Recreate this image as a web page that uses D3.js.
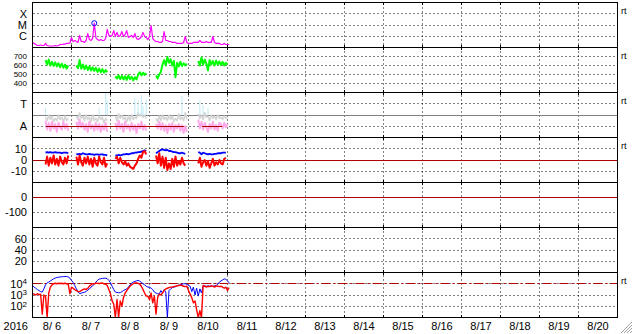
<!DOCTYPE html>
<html>
<head>
<meta charset="utf-8">
<script src="https://cdnjs.cloudflare.com/ajax/libs/d3/7.8.5/d3.min.js"></script>
<style>
  body { margin: 0; background: #fff; }
  svg { display: block; font-family: "Liberation Sans", Arial, sans-serif; }
  .grid line { stroke: #000; stroke-width: 1px; stroke-dasharray: 1,3; }
  .lbl { font-size: 11px; fill: #000; }
  .lbl.small { font-size: 8px; }
  .rt { font-size: 9px; fill: #000; }
  .data { fill: none; stroke-linejoin: round; }
</style>
</head>
<body>
<script>

// ---- data (hourly, starting 2016-08-06 00UT) ----
var dayLabels = ["8/ 6","8/ 7","8/ 8","8/ 9","8/10","8/11","8/12","8/13","8/14","8/15","8/16","8/17","8/18","8/19","8/20"];
var yearLabel = "2016";

// X-ray flux in units of 1e-7 W/m2
var xray = [2.8,2.3,1.85,1.5,1.5,1.67,1.5,1.5,2.3,1.5,
  1.36,1.36,1.36,1.36,1.5,1.36,1.5,1.85,1.85,2.0,
  2.0,2.3,2.3,2.5,7.7,3.4,4.2,3.4,2.8,11.7,
  3.4,3.4,2.8,4.2,17.5,5.1,4.2,6.3,145,7.7,
  5.1,4.2,5.1,4.2,4.2,6.3,40,11.7,9.5,11.7,
  32,9.5,22,9.5,11.7,26,9.5,14,32,7.7,
  9.5,11.7,7.7,17.5,6.3,5.1,6.3,9.5,22,9.5,
  7.7,5.1,9.5,90,6.3,4.2,3.4,3.4,2.8,2.8,
  3.4,26,4.2,4.2,3.4,3.4,2.8,2.8,2.8,2.3,
  2.3,2.3,2.3,2.8,9.5,2.8,2.3,2.3,2.3,2.8,
  2.8,2.8,2.8,4.2,2.8,2.8,2.8,3.4,2.8,2.8,
  2.8,9.5,2.8,2.3,2.3,2.3,1.85,1.85,2.3,1.85,
  1.85,1.85];
var flareHour = 38;
var xrayTicks = [1000, 100, 10];
var xrayLabels = ["X", "M", "C"];

// solar wind data come in 5 pieces; start hour of each
var segStart = [8, 27, 51, 76, 102];

var speed = [
  [660,610,665,600,640,595,635,590,625,580,620,575,610,565,600],
  [600,570,660,565,610,560,600,550,590,545,580,540,575,530,565,525,560,520,550,525],
  [480,455,490,450,485,445,480,440,490,450,475,435,470,445,500,525,490,520,495,515],
  [490,455,500,530,610,660,600,695,630,670,600,650,470,630,590,640,595,625,600,620],
  [650,600,690,610,665,620,545,660,610,650,600,655,610,645,605,640,600,630,610]
];
var speedTicks = [700, 600, 500, 400];

var gray3 = [
  [1.8,1.5,2.0,1.6,1.9,1.4,1.7,1.5,2.0,1.6,1.8,1.4,1.9,1.5,1.7],
  [1.9,1.6,2.2,1.7,1.9,1.5,2.0,1.6,1.8,1.4,2.0,1.5,1.7,1.4,1.9,1.6,1.8,1.3,1.7,1.5],
  [1.9,1.5,2.1,1.7,2.0,1.6,1.8,1.4,1.9,1.5,2.0,1.6,1.8,1.7,2.2,1.9,2.1,1.8,2.0,1.7],
  [1.7,1.4,1.9,1.5,2.0,1.6,1.8,1.5,2.0,1.6,1.9,1.4,1.7,1.5,2.1,1.6,1.8,1.5,2.2,1.6],
  [2.1,1.7,2.0,1.6,2.2,1.8,1.9,1.5,2.0,1.7,1.9,1.6,2.0,1.7,1.8,1.6,1.9,1.7,1.8]
];
var pink3 = [
  [1.5,0.7,1.3,0.6,1.4,0.8,1.2,0.5,1.3,0.9,0.7,1.4,0.8,1.2,0.6],
  [1.4,0.8,1.6,0.9,1.3,0.7,1.2,0.5,1.4,0.8,1.1,0.6,1.3,0.7,1.2,0.5,1.1,0.7,1.3,0.5],
  [1.3,0.7,1.5,0.8,1.2,0.5,1.4,0.8,1.1,0.6,1.3,0.7,1.1,0.4,1.2,0.8,1.4,0.7,1.1,0.6],
  [1.2,0.8,1.4,0.7,1.3,0.6,1.1,0.4,1.2,0.7,1.3,0.5,1.1,0.8,1.2,0.6,1.1,0.4,1.0,0.5],
  [1.6,0.8,1.4,0.7,1.3,0.9,0.5,1.2,0.8,1.4,0.7,1.1,0.6,1.3,1.2,0.8,1.3,0.9,1.2]
];
var cyanHours = [8, 41, 45, 46, 63, 65, 67, 68, 70, 92, 103, 105, 108];
var cyanVals  = [2.6, 2.6, 4.0, 3.3, 3.5, 3.2, 3.8, 2.8, 3.4, 3.7, 3.3, 2.9, 2.6];
var aLineSpans = [[8.3, 93.4], [104.4, 116.7]];
var p3Ticks = [3, 1];
var p3Labels = ["T", "A"];

var bt = [
  [6.5,7,6.5,7,6.5,6.5,7,6.5,6.5,6.5,6,6.5,6.5,6.5,6],
  [5.5,5,5.5,5,6,5.5,5,5,5.5,5,5,4.5,5,5,4.5,5,5,4.5,4.5,4],
  [4,4,4.5,4,4.5,5,5,5.5,5,5.5,6,6,6.5,6.5,7,7,7.5,8,8.5,8],
  [6,7,8,9,9.5,9,8.5,9,8,8,7.5,7,7,6.5,6,6,6.5,6,5.5],
  [7,6.5,5,6.5,6,5.5,5,5.5,5,5,5.5,5.5,6,6,6,6.5,6.5,6.5]
];
var bz = [
  [-4,3,-5,2,-3,4,-4,1,-5,3,-2,-4,2,-3,4],
  [3,-4,4,-2,-5,2,-3,3,-4,1,-6,2,-3,-5,3,-2,-4,2,-6,-3],
  [1,3,-3,2,-2,-4,-1,-5,-3,-6,-7,-8,-5,-3,1,4,2,7,8,5],
  [4,-3,6,-5,3,-7,2,-9,-3,-8,1,-6,3,-5,-1,-4,2,-3,-5],
  [-3,2,-6,-2,0,-5,-1,-7,-3,1,-5,-2,-4,0,-3,-4,1,2]
];
var bzTicks = [10, 0, -10];

var dstTicks = [0, -100];
var p6Ticks = [60, 40, 20];

// electron flux (blue) and second channel (red)
var eBlue = [7000,5000,4000,3000,2500,2000,1800,3500,8000,12000,
  14000,18000,22000,28000,32000,36000,38000,40000,42000,43000,
  44000,44000,40000,32000,20000,13000,7000,3500,2000,1300,
  1500,1600,1800,2000,2800,3500,5000,6500,9000,14000,
  20000,26000,28000,30000,31000,31000,28000,20000,12000,6000,
  3000,1800,1700,1600,1600,2000,2500,3000,3500,5000,
  8000,11000,14000,16000,18000,20000,17000,13000,10000,8000,
  6000,5000,5000,4000,3000,1800,1500,1300,1200,2500,
  1500,3000,1800,10,2500,3500,4500,5000,5500,6500,
  7500,8000,9000,10000,10000,9000,7000,6000,2000,5000,
  1000,4000,800,3500,1500,7000,6500,6000,6500,6000,
  6500,6000,6500,7000,9000,14000,18000,22000,27000,25000,
  18000,12000];
var eRed = [1300,1200,1000,1300,1100,1200,20,1000,800,10,
  1500,5000,8000,10000,11000,10000,11000,10500,11000,10000,
  11000,10000,9000,1300,5000,4000,3000,2500,2000,2000,
  2500,3000,3500,3000,4000,6000,8000,10000,10000,11000,
  11000,10500,11000,11500,10000,9000,7000,3000,1200,300,
  150,10,400,10,300,100,600,1500,2500,4000,
  6000,8000,10000,12000,12000,11000,9000,6000,3000,1500,
  800,800,400,1500,200,800,20,600,1200,1000,
  1500,2500,3500,4000,4500,5000,5000,5500,6000,6500,
  7000,7500,7000,6000,5500,6000,2500,1200,600,200,
  300,50,10,40,10,7000,6000,5000,6000,5500,
  6500,6000,5000,6500,6000,5500,6000,5000,4000,5000,
  2500,4500];
var eTicks = [1e4, 1e3, 1e2];
var eExp = ["4", "3", "2"];
var eThreshold = 1e4;

// ---- layout ----
var W = 633, H = 334, panelH = 45, top0 = 2.5, left = 32.5, right = 617.5;
var t0 = Date.UTC(2016, 7, 6);
var x = d3.scaleUtc().domain([t0, Date.UTC(2016, 7, 21)]).range([left, right]);
function hx(h) { return x(new Date(t0 + h * 36e5)); }
function snap(v) { return Math.floor(v) + 0.5; }
function ptop(i) { return top0 + i * panelH; }

var panels = [
  { y: d3.scaleLog().domain([1, 1e4]), ticks: xrayTicks, rt: true },
  { y: d3.scaleLinear().domain([300, 800]), ticks: speedTicks, rt: true, small: true },
  { y: d3.scaleLinear().domain([0, 4]), ticks: p3Ticks, rt: true },
  { y: d3.scaleLinear().domain([-20, 20]), ticks: bzTicks, rt: true },
  { y: d3.scaleLinear().domain([-200, 100]), ticks: dstTicks, rt: false },
  { y: d3.scaleLinear().domain([0, 80]), ticks: p6Ticks, rt: false },
  { y: d3.scaleLog().domain([10, 1e5]), ticks: eTicks, rt: true }
];
panels.forEach(function(p, i) {
  p.y.range([ptop(i) + panelH, ptop(i)]).clamp(true);
});

var svg = d3.select("body").append("svg")
    .attr("width", W)
    .attr("height", H);

// clip paths per panel
var defs = svg.append("defs");
panels.forEach(function(p, i) {
  defs.append("clipPath").attr("id", "clip" + i)
    .append("rect")
      .attr("x", left).attr("y", ptop(i))
      .attr("width", right - left).attr("height", panelH);
});

// grid
var grid = svg.append("g").attr("class", "grid");
panels.forEach(function(p, i) {
  p.ticks.forEach(function(v) {
    var yy = snap(p.y(v));
    grid.append("line")
      .attr("x1", left + 1).attr("x2", right)
      .attr("y1", yy).attr("y2", yy);
  });
});
var dayBounds = d3.utcDay.range(new Date(Date.UTC(2016, 7, 7)), new Date(Date.UTC(2016, 7, 21)));
grid.selectAll(".vg")
  .data(dayBounds)
  .enter().append("line")
    .attr("x1", function(d) { return snap(x(d)); })
    .attr("x2", function(d) { return snap(x(d)); })
    .attr("y1", top0 + 1)
    .attr("y2", ptop(7));

// helper: turn segments into points
function segPoints(segs) {
  return segs.map(function(arr, k) {
    return arr.map(function(v, j) { return {h: segStart[k] + j, v: v}; });
  });
}
function hourPoints(arr) {
  return arr.map(function(v, j) { return {h: j, v: v}; });
}
function drawLine(i, data, color, width) {
  var p = panels[i];
  var line = d3.line()
    .x(function(d) { return hx(d.h); })
    .y(function(d) { return p.y(d.v); });
  svg.append("g").attr("clip-path", "url(#clip" + i + ")")
    .selectAll("path")
    .data(data)
    .enter().append("path")
      .attr("class", "data")
      .attr("stroke", color)
      .attr("stroke-width", width)
      .attr("d", line);
}
function hline(i, v, color, dash, x1, x2) {
  var yy = snap(panels[i].y(v));
  svg.append("line")
    .attr("x1", x1 === undefined ? left : x1)
    .attr("x2", x2 === undefined ? right : x2)
    .attr("y1", yy).attr("y2", yy)
    .attr("stroke", color)
    .attr("stroke-dasharray", dash || null);
}

var darkRed = "#b00000";

// panel 0: x-ray
drawLine(0, [hourPoints(xray)], "#ff00ff", 1.2);
svg.append("circle")
  .attr("cx", hx(flareHour))
  .attr("cy", panels[0].y(xray[flareHour]))
  .attr("r", 2.5)
  .attr("fill", "none")
  .attr("stroke", "#0000ff");

// panel 1: speed
drawLine(1, segPoints(speed), "#00ff00", 2);

// panel 2
hline(2, 2, "#808080");
drawLine(2, segPoints(gray3), "#d4d4d4", 1.6);
svg.append("g").attr("clip-path", "url(#clip2)")
  .selectAll("line")
  .data(cyanHours)
  .enter().append("line")
    .attr("x1", function(d) { return hx(d); })
    .attr("x2", function(d) { return hx(d); })
    .attr("y1", panels[2].y(2))
    .attr("y2", function(d, k) { return panels[2].y(cyanVals[k]); })
    .attr("stroke", "#bfeaf6")
    .attr("stroke-width", 1);
drawLine(2, segPoints(pink3), "#ffaaea", 2);
aLineSpans.forEach(function(s) {
  hline(2, 1, darkRed, null, hx(s[0]), hx(s[1]));
});

// panel 3: Bt / Bz
hline(3, 0, darkRed);
drawLine(3, segPoints(bt), "#0000ff", 1.8);
drawLine(3, segPoints(bz), "#ff0000", 2);

// panel 4: Dst zero line
hline(4, 0, darkRed);

// panel 6: electrons
hline(6, eThreshold, darkRed, "9,3,2,3");
drawLine(6, [hourPoints(eBlue)], "#0000ff", 1);
drawLine(6, [hourPoints(eRed)], "#ff0000", 1.4);

// frame and separators
svg.append("rect")
  .attr("x", left).attr("y", top0)
  .attr("width", right - left).attr("height", ptop(7) - top0)
  .attr("fill", "none").attr("stroke", "#000");
d3.range(1, 7).forEach(function(i) {
  svg.append("line")
    .attr("x1", left).attr("x2", right)
    .attr("y1", ptop(i)).attr("y2", ptop(i))
    .attr("stroke", "#000");
});
// little day ticks on the panel lines
d3.range(0, 8).forEach(function(i) {
  var yy = ptop(i);
  svg.selectAll(null)
    .data(dayBounds)
    .enter().append("line")
      .attr("x1", function(d) { return snap(x(d)); })
      .attr("x2", function(d) { return snap(x(d)); })
      .attr("y1", i === 0 ? yy : yy - 2.5)
      .attr("y2", i === 7 ? yy : yy + 2.5)
      .attr("stroke", "#000");
});

// y labels
panels.forEach(function(p, i) {
  if (i === 6) return;
  var labs = i === 0 ? xrayLabels : (i === 2 ? p3Labels : null);
  p.ticks.forEach(function(v, k) {
    svg.append("text")
      .attr("class", p.small ? "lbl small" : "lbl")
      .attr("x", 27)
      .attr("y", p.y(v))
      .attr("dy", "0.36em")
      .attr("text-anchor", "end")
      .text(labs ? labs[k] : (v < 0 ? "-" + Math.abs(v) : v));
  });
});
eTicks.forEach(function(v, k) {
  var t = svg.append("text")
    .attr("class", "lbl")
    .attr("x", 27)
    .attr("y", panels[6].y(v))
    .attr("dy", "0.37em")
    .attr("text-anchor", "end");
  t.append("tspan").text("10");
  t.append("tspan").attr("dy", "-0.45em").style("font-size", "8px").text(eExp[k]);
});

// "rt" marks
panels.forEach(function(p, i) {
  if (!p.rt) return;
  svg.append("text").attr("class", "rt")
    .attr("x", 621).attr("y", ptop(i) + 11)
    .text("rt");
});

// date labels
svg.selectAll(".dl")
  .data(dayLabels)
  .enter().append("text")
    .attr("class", "lbl")
    .attr("xml:space", "preserve")
    .style("white-space", "pre")
    .attr("x", function(d, k) { return x(new Date(t0 + (k + 0.5) * 864e5)); })
    .attr("y", 329.5)
    .attr("text-anchor", "middle")
    .text(function(d) { return d; });
svg.append("text").attr("class", "lbl")
  .attr("x", 28).attr("y", 329.5)
  .attr("text-anchor", "end")
  .text(yearLabel);

// window resize grip in the corner
d3.range(4).forEach(function(k) {
  svg.append("line")
    .attr("x1", 621 + k * 3).attr("y1", 333)
    .attr("x2", 632).attr("y2", 322 + k * 3)
    .attr("stroke", "#a0a0a0");
});

</script>
</body>
</html>
